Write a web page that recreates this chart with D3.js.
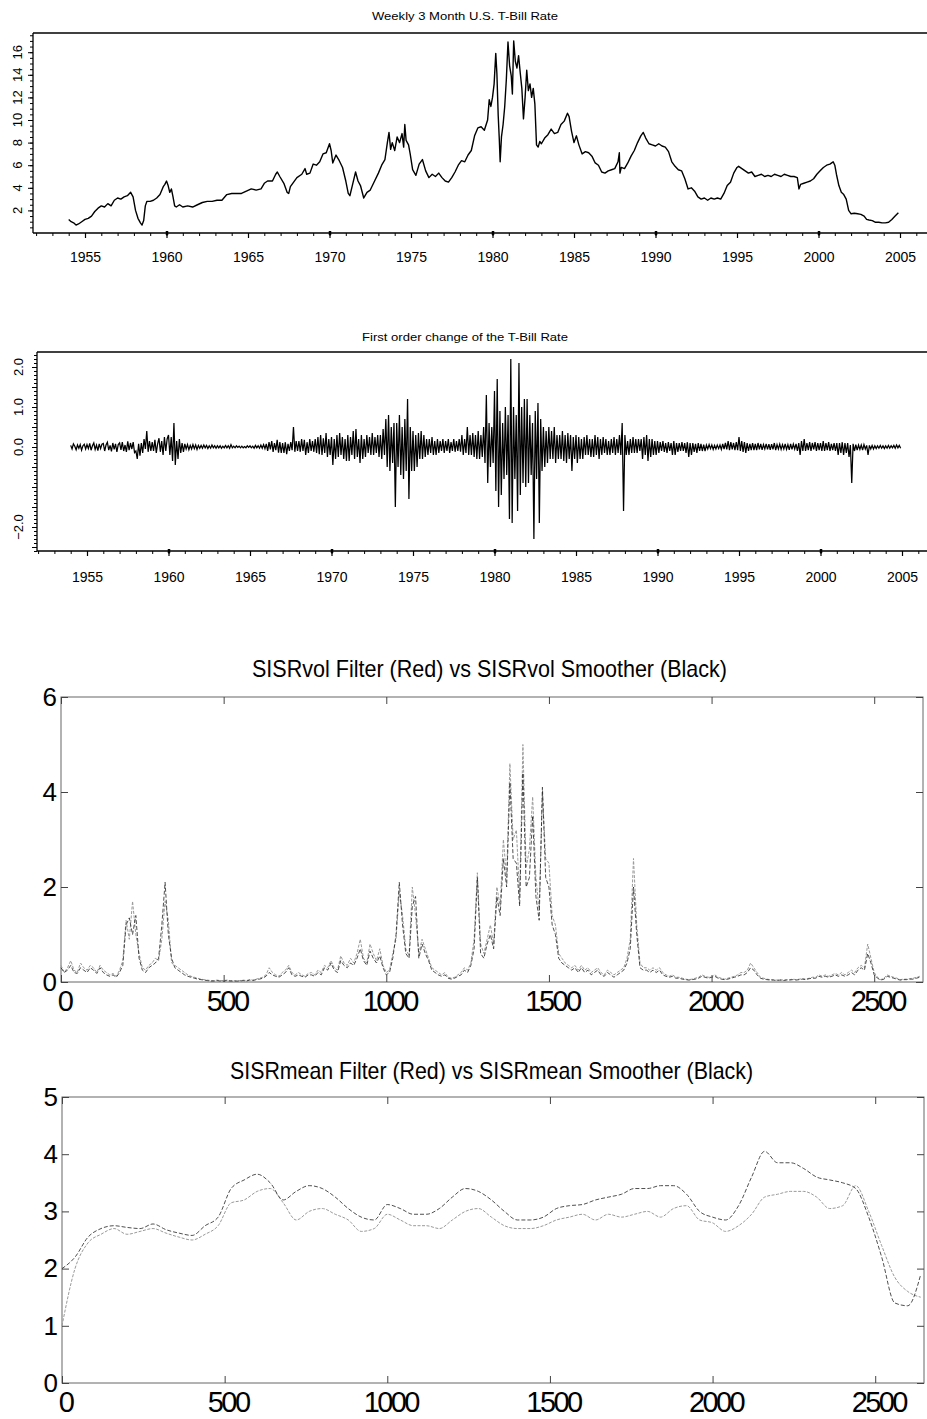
<!DOCTYPE html>
<html><head><meta charset="utf-8">
<script src="https://cdn.jsdelivr.net/npm/d3@7"></script>
<style>body{margin:0;background:#fff}svg{display:block}</style>
</head><body>
<svg id="c" width="927" height="1419"></svg>
<script>
// ---------- DATA ----------
const title1 = "Weekly 3 Month U.S. T-Bill Rate";
const title2 = "First order change of the T-Bill Rate";
const title3 = "SISRvol Filter (Red) vs SISRvol Smoother (Black)";
const title4 = "SISRmean Filter (Red) vs SISRmean Smoother (Black)";
const yearLabels = [1955,1960,1965,1970,1975,1980,1985,1990,1995,2000,2005];
const rateTicks = [2,4,6,8,10,12,14,16];
const changeTicks = [2.0,1.0,0.0,-2.0];
const indexTicks = [0,500,1000,1500,2000,2500];
const volTicks = [0,2,4,6];
const meanTicks = [0,1,2,3,4,5];

// weekly 3-month T-bill rate [year, percent]
const tbill = [
[1954.0,1.2],[1954.15,1.0],[1954.3,0.9],[1954.45,0.7],[1954.6,0.8],[1954.8,1.0],[1955.0,1.2],[1955.2,1.3],[1955.4,1.5],[1955.6,1.9],[1955.8,2.2],[1956.0,2.4],[1956.2,2.3],[1956.4,2.6],[1956.6,2.4],[1956.8,2.9],[1957.0,3.1],[1957.2,3.0],[1957.4,3.2],[1957.6,3.3],[1957.8,3.6],[1957.95,3.2],[1958.1,2.0],[1958.25,1.3],[1958.4,0.9],[1958.5,0.7],[1958.6,1.1],[1958.7,2.4],[1958.8,2.8],[1959.0,2.8],[1959.2,2.9],[1959.4,3.1],[1959.6,3.4],[1959.8,4.1],[1959.9,4.3],[1960.0,4.6],[1960.1,4.2],[1960.2,3.6],[1960.3,3.9],[1960.4,3.2],[1960.5,2.4],[1960.6,2.3],[1960.8,2.5],[1961.0,2.3],[1961.3,2.4],[1961.6,2.3],[1961.9,2.5],[1962.2,2.7],[1962.5,2.8],[1962.8,2.8],[1963.1,2.9],[1963.4,2.9],[1963.7,3.4],[1964.0,3.5],[1964.3,3.5],[1964.6,3.5],[1964.9,3.7],[1965.2,3.9],[1965.5,3.8],[1965.8,3.9],[1966.0,4.4],[1966.2,4.6],[1966.5,4.6],[1966.7,5.2],[1966.8,5.4],[1966.95,5.0],[1967.2,4.4],[1967.4,3.6],[1967.5,3.5],[1967.6,4.1],[1967.8,4.5],[1968.0,4.9],[1968.3,5.2],[1968.5,5.7],[1968.6,5.2],[1968.8,5.3],[1969.0,6.1],[1969.2,6.0],[1969.4,6.3],[1969.6,7.0],[1969.8,7.1],[1970.0,7.9],[1970.1,7.3],[1970.2,6.2],[1970.4,6.9],[1970.6,6.4],[1970.8,5.8],[1971.0,4.6],[1971.15,3.5],[1971.25,3.3],[1971.4,4.2],[1971.6,5.4],[1971.75,4.6],[1971.9,4.2],[1972.1,3.1],[1972.3,3.6],[1972.5,3.8],[1972.7,4.4],[1973.0,5.3],[1973.2,6.0],[1973.4,6.5],[1973.55,8.0],[1973.65,8.9],[1973.75,7.4],[1973.85,8.0],[1974.0,7.3],[1974.15,8.5],[1974.3,8.0],[1974.45,8.8],[1974.55,7.6],[1974.62,9.6],[1974.7,8.2],[1974.85,7.8],[1974.95,7.0],[1975.1,5.6],[1975.3,5.1],[1975.5,6.1],[1975.7,6.5],[1975.9,5.5],[1976.1,4.9],[1976.3,5.2],[1976.5,5.0],[1976.7,5.3],[1976.9,4.9],[1977.1,4.6],[1977.3,4.5],[1977.5,4.9],[1977.7,5.4],[1977.9,6.0],[1978.1,6.4],[1978.3,6.3],[1978.5,6.9],[1978.7,7.3],[1978.9,8.6],[1979.1,9.3],[1979.3,9.4],[1979.5,9.1],[1979.7,10.0],[1979.8,11.8],[1979.9,11.2],[1980.0,12.0],[1980.1,13.2],[1980.2,15.9],[1980.27,14.1],[1980.35,10.4],[1980.42,8.2],[1980.47,6.3],[1980.55,8.5],[1980.65,9.6],[1980.75,11.2],[1980.85,13.6],[1980.95,16.9],[1981.05,14.8],[1981.15,13.9],[1981.22,12.3],[1981.3,17.0],[1981.4,15.2],[1981.5,14.6],[1981.6,15.7],[1981.7,14.2],[1981.8,12.8],[1981.9,10.1],[1982.0,12.0],[1982.1,14.4],[1982.2,12.6],[1982.3,13.2],[1982.4,12.0],[1982.5,12.8],[1982.6,11.4],[1982.7,7.8],[1982.8,7.6],[1982.9,8.1],[1983.0,7.9],[1983.2,8.4],[1983.4,8.7],[1983.6,9.2],[1983.8,8.8],[1984.0,8.9],[1984.2,9.6],[1984.4,9.9],[1984.6,10.6],[1984.7,10.3],[1984.85,9.0],[1985.0,8.0],[1985.15,8.6],[1985.3,7.8],[1985.5,7.0],[1985.7,7.2],[1985.9,7.1],[1986.1,6.8],[1986.3,6.2],[1986.5,6.0],[1986.7,5.4],[1986.9,5.3],[1987.1,5.5],[1987.3,5.6],[1987.5,5.7],[1987.7,6.3],[1987.78,7.1],[1987.82,5.3],[1987.9,5.8],[1988.1,5.7],[1988.3,6.2],[1988.5,6.8],[1988.7,7.3],[1988.9,8.0],[1989.1,8.6],[1989.25,8.9],[1989.4,8.4],[1989.6,7.9],[1989.8,7.8],[1990.0,7.7],[1990.2,7.9],[1990.4,7.7],[1990.6,7.6],[1990.8,7.2],[1991.0,6.3],[1991.2,5.9],[1991.4,5.6],[1991.6,5.5],[1991.8,4.8],[1992.0,3.9],[1992.2,4.0],[1992.4,3.7],[1992.6,3.2],[1992.8,3.0],[1993.0,3.1],[1993.2,2.9],[1993.4,3.1],[1993.6,3.0],[1993.8,3.1],[1994.0,3.0],[1994.2,3.5],[1994.4,4.2],[1994.6,4.5],[1994.8,5.3],[1995.0,5.8],[1995.1,5.9],[1995.3,5.7],[1995.5,5.5],[1995.7,5.3],[1995.9,5.4],[1996.1,5.0],[1996.3,5.1],[1996.5,5.2],[1996.7,5.0],[1996.9,5.1],[1997.1,5.0],[1997.3,5.2],[1997.5,5.1],[1997.7,5.0],[1997.9,5.2],[1998.1,5.1],[1998.3,5.0],[1998.5,5.0],[1998.7,4.9],[1998.8,3.9],[1998.9,4.3],[1999.1,4.4],[1999.3,4.5],[1999.5,4.6],[1999.7,4.8],[1999.9,5.2],[2000.1,5.5],[2000.3,5.8],[2000.5,6.0],[2000.7,6.1],[2000.9,6.3],[2001.0,6.0],[2001.1,5.2],[2001.25,4.2],[2001.4,3.6],[2001.55,3.4],[2001.7,3.0],[2001.85,2.0],[2002.0,1.7],[2002.2,1.75],[2002.4,1.7],[2002.6,1.65],[2002.8,1.5],[2002.95,1.2],[2003.1,1.15],[2003.3,1.1],[2003.5,0.95],[2003.7,0.95],[2003.9,0.9],[2004.1,0.9],[2004.3,0.95],[2004.5,1.2],[2004.7,1.5],[2004.9,1.8]
];

// first order change, sampled 12 times per year from 1954.0
const changeStartYear = 1954.0;
const changePerYear = 12;
const rateChange = [
0.04,-0.05,0.08,0.02,-0.07,0.05,-0.03,0.06,-0.08,0.03,0.07,-0.05,
0.06,-0.04,0.09,-0.08,0.03,0.1,-0.06,0.05,-0.09,0.08,-0.04,0.07,
0.09,-0.1,0.05,0.12,-0.08,0.04,-0.11,0.1,-0.06,0.08,-0.12,0.06,
0.1,-0.07,0.12,-0.1,0.05,-0.12,0.14,-0.08,0.1,-0.05,0.12,-0.14,
-0.1,-0.3,0.08,-0.22,0.1,-0.15,0.2,-0.05,0.4,-0.12,0.15,-0.1,
0.12,-0.1,0.18,-0.15,0.08,0.22,-0.12,0.15,-0.2,0.25,-0.1,0.2,
0.3,-0.2,0.25,-0.35,0.6,-0.45,0.15,-0.3,0.2,-0.15,0.1,-0.12,
0.08,-0.05,0.06,-0.07,0.04,-0.05,0.06,-0.04,0.05,-0.06,0.04,-0.03,
0.04,-0.03,0.05,-0.02,0.04,-0.04,0.03,-0.03,0.05,-0.02,0.03,-0.03,
0.03,-0.02,0.03,-0.03,0.02,-0.02,0.04,-0.02,0.03,-0.03,0.06,-0.02,
0.02,-0.02,0.03,-0.01,0.02,-0.02,0.02,-0.02,0.01,-0.02,0.03,-0.01,
0.03,-0.02,0.02,-0.03,0.04,-0.02,0.03,-0.03,0.05,-0.03,0.06,-0.04,
0.08,-0.1,0.12,-0.06,0.15,-0.12,0.1,-0.08,0.18,-0.14,0.12,-0.15,
0.1,-0.15,0.12,-0.18,0.08,-0.1,0.12,-0.08,0.5,-0.12,0.15,-0.1,
0.15,-0.12,0.2,-0.1,0.18,-0.2,0.12,-0.15,0.2,-0.1,0.15,-0.12,
0.2,-0.15,0.25,-0.18,0.3,-0.2,0.22,-0.15,0.35,-0.25,0.2,-0.2,
0.25,-0.45,0.2,-0.3,0.3,-0.25,0.35,-0.2,0.25,-0.3,0.2,-0.35,
0.3,-0.35,0.25,-0.2,0.4,-0.3,0.45,-0.25,0.2,-0.4,0.3,-0.3,
0.2,-0.25,0.3,-0.15,0.25,-0.2,0.35,-0.2,0.25,-0.15,0.3,-0.25,
0.3,-0.3,0.45,-0.2,0.7,-0.5,0.8,-0.6,0.5,-0.4,0.6,-1.5,
0.6,-0.5,0.8,-0.7,0.5,-0.8,0.7,-0.6,1.2,-1.3,0.5,-0.6,
0.4,-0.6,0.3,-0.5,0.35,-0.3,0.4,-0.3,0.3,-0.25,0.2,-0.2,
0.2,-0.15,0.25,-0.2,0.15,-0.2,0.2,-0.15,0.15,-0.1,0.2,-0.15,
0.15,-0.1,0.2,-0.15,0.12,-0.1,0.2,-0.12,0.15,-0.1,0.2,-0.12,
0.3,-0.2,0.2,-0.15,0.5,-0.2,0.3,-0.2,0.35,-0.25,0.3,-0.3,
0.4,-0.3,0.3,-0.25,0.5,-0.4,1.3,-0.9,0.6,-0.5,0.5,-0.4,
1.4,-1.1,1.7,-1.5,0.9,-1.2,0.6,-0.8,1.0,-0.7,0.8,-1.8,
2.2,-1.9,1.0,-0.8,0.8,-1.6,2.1,-1.2,1.0,-0.9,1.2,-1.0,
1.2,-0.9,0.8,-0.7,0.6,-2.3,0.9,-0.8,1.1,-1.9,0.7,-0.6,
0.5,-0.5,0.4,-0.4,0.5,-0.3,0.4,-0.3,0.5,-0.4,0.3,-0.3,
0.3,-0.3,0.4,-0.35,0.3,-0.4,0.35,-0.3,0.3,-0.6,0.25,-0.3,
0.3,-0.4,0.25,-0.3,0.2,-0.3,0.25,-0.2,0.3,-0.2,0.2,-0.25,
0.2,-0.25,0.3,-0.2,0.25,-0.3,0.2,-0.2,0.25,-0.15,0.2,-0.2,
0.15,-0.2,0.2,-0.15,0.25,-0.2,0.2,-0.15,0.3,-0.2,0.6,-1.6,
0.3,-0.2,0.15,-0.2,0.2,-0.15,0.25,-0.15,0.2,-0.15,0.2,-0.1,
0.2,-0.3,0.25,-0.2,0.3,-0.35,0.2,-0.25,0.2,-0.2,0.15,-0.2,
0.15,-0.15,0.12,-0.1,0.15,-0.12,0.1,-0.15,0.12,-0.1,0.1,-0.2,
0.15,-0.2,0.1,-0.12,0.1,-0.1,0.12,-0.1,0.1,-0.15,0.12,-0.25,
0.1,-0.2,0.1,-0.12,0.08,-0.15,0.1,-0.1,0.08,-0.1,0.06,-0.1,
0.05,-0.05,0.06,-0.04,0.05,-0.06,0.04,-0.05,0.05,-0.04,0.05,-0.06,
0.08,-0.05,0.1,-0.06,0.15,-0.08,0.12,-0.06,0.1,-0.08,0.12,-0.08,
0.25,-0.1,0.15,-0.12,0.12,-0.15,0.1,-0.1,0.08,-0.08,0.1,-0.08,
0.08,-0.08,0.1,-0.06,0.08,-0.07,0.06,-0.05,0.08,-0.06,0.07,-0.07,
0.07,-0.06,0.1,-0.08,0.06,-0.05,0.07,-0.06,0.06,-0.05,0.08,-0.06,
0.06,-0.07,0.08,-0.06,0.07,-0.05,0.08,-0.1,0.1,-0.2,0.15,-0.1,
0.2,-0.1,0.1,-0.08,0.12,-0.1,0.1,-0.06,0.12,-0.1,0.1,-0.08,
0.1,-0.1,0.15,-0.1,0.1,-0.08,0.12,-0.1,0.08,-0.08,0.1,-0.1,
0.1,-0.2,0.1,-0.15,0.12,-0.2,0.1,-0.15,0.1,-0.25,0.05,-0.9,
0.08,-0.1,0.06,-0.08,0.05,-0.06,0.05,-0.08,0.06,-0.05,0.04,-0.2,
0.04,-0.05,0.04,-0.05,0.03,-0.04,0.03,-0.03,0.04,-0.03,0.03,-0.04,
0.03,-0.03,0.04,-0.03,0.03,-0.02,0.04,-0.03,0.05,-0.02,0.04,-0.03
];

// SISR volatility, sampled every 10 observations
const volStep = 10;
const volFilter = [
0.35,0.2,0.3,0.45,0.25,0.2,0.4,0.3,0.25,0.35,
0.3,0.2,0.35,0.25,0.2,0.15,0.18,0.12,0.25,0.45,
1.3,0.9,1.7,1.0,0.6,0.3,0.25,0.35,0.4,0.5,
0.45,0.9,1.7,1.3,0.4,0.35,0.3,0.25,0.2,0.15,
0.12,0.1,0.08,0.06,0.05,0.04,0.03,0.03,0.04,0.03,
0.03,0.04,0.03,0.03,0.02,0.03,0.04,0.03,0.05,0.04,
0.06,0.08,0.1,0.15,0.3,0.2,0.15,0.12,0.2,0.25,
0.35,0.2,0.15,0.2,0.15,0.12,0.18,0.2,0.15,0.25,
0.2,0.35,0.3,0.45,0.3,0.25,0.55,0.4,0.35,0.5,
0.4,0.6,0.9,0.5,0.4,0.8,0.6,0.45,0.7,0.35,
0.2,0.25,0.6,0.9,1.9,1.4,0.7,0.55,2.0,1.4,
0.6,0.9,0.7,0.5,0.3,0.25,0.2,0.15,0.2,0.1,
0.08,0.1,0.15,0.2,0.3,0.25,0.4,0.9,2.3,0.8,
0.6,0.9,1.2,0.8,2.0,1.6,3.0,2.2,4.6,3.0,
3.2,1.8,5.0,2.4,2.8,3.9,2.2,1.5,4.0,2.6,
2.5,1.4,1.2,0.6,0.5,0.4,0.35,0.3,0.35,0.25,
0.35,0.25,0.3,0.2,0.25,0.3,0.2,0.15,0.25,0.2,
0.15,0.2,0.25,0.3,0.5,0.9,2.6,1.2,0.4,0.3,
0.3,0.25,0.3,0.25,0.3,0.2,0.15,0.12,0.15,0.1,
0.1,0.08,0.06,0.05,0.06,0.08,0.1,0.15,0.12,0.1,
0.12,0.15,0.1,0.08,0.06,0.08,0.1,0.12,0.15,0.2,
0.2,0.25,0.4,0.3,0.2,0.1,0.08,0.06,0.05,0.05,
0.04,0.05,0.04,0.05,0.05,0.06,0.05,0.06,0.07,0.06,
0.08,0.1,0.1,0.15,0.12,0.15,0.12,0.15,0.18,0.15,
0.2,0.15,0.2,0.25,0.2,0.3,0.35,0.3,0.8,0.5,
0.2,0.1,0.05,0.08,0.15,0.12,0.1,0.08,0.05,0.06,
0.06,0.07,0.08,0.1,0.12
];
const volSmoother = [
0.3,0.2,0.25,0.35,0.2,0.18,0.3,0.25,0.2,0.3,
0.25,0.18,0.3,0.2,0.15,0.12,0.15,0.1,0.2,0.35,
1.2,1.35,1.0,1.4,0.5,0.25,0.2,0.3,0.35,0.4,
0.5,1.2,2.1,1.0,0.5,0.3,0.25,0.2,0.15,0.12,
0.1,0.08,0.06,0.05,0.04,0.03,0.02,0.02,0.03,0.02,
0.02,0.03,0.02,0.02,0.02,0.02,0.03,0.02,0.04,0.03,
0.05,0.06,0.08,0.12,0.2,0.15,0.12,0.1,0.15,0.2,
0.3,0.15,0.12,0.15,0.12,0.1,0.15,0.15,0.12,0.2,
0.15,0.3,0.25,0.4,0.25,0.2,0.45,0.35,0.3,0.4,
0.35,0.5,0.7,0.45,0.35,0.65,0.5,0.4,0.55,0.3,
0.15,0.2,0.5,1.0,2.1,1.2,0.6,0.5,1.6,1.8,
0.5,0.8,0.6,0.45,0.25,0.2,0.15,0.12,0.15,0.08,
0.06,0.08,0.12,0.15,0.25,0.2,0.35,0.7,2.2,0.6,
0.5,0.8,1.0,0.7,1.8,1.4,2.6,2.0,4.2,2.6,
2.5,1.6,4.4,2.0,2.2,3.5,1.8,1.3,4.1,2.2,
2.0,1.2,1.0,0.5,0.4,0.35,0.3,0.25,0.3,0.2,
0.3,0.2,0.25,0.15,0.2,0.25,0.15,0.12,0.2,0.15,
0.1,0.15,0.2,0.25,0.4,0.7,2.0,1.0,0.3,0.25,
0.25,0.2,0.25,0.2,0.25,0.15,0.12,0.1,0.12,0.08,
0.08,0.06,0.05,0.04,0.05,0.06,0.08,0.12,0.1,0.08,
0.1,0.12,0.08,0.06,0.05,0.06,0.08,0.1,0.12,0.15,
0.15,0.2,0.3,0.25,0.15,0.08,0.06,0.05,0.04,0.04,
0.03,0.04,0.03,0.04,0.04,0.05,0.04,0.05,0.06,0.05,
0.07,0.08,0.08,0.12,0.1,0.12,0.1,0.12,0.15,0.12,
0.15,0.12,0.15,0.2,0.15,0.25,0.3,0.25,0.6,0.4,
0.15,0.08,0.04,0.06,0.12,0.1,0.08,0.06,0.04,0.05,
0.05,0.06,0.06,0.08,0.1
];

// SISR mean, sampled every 40 observations
const meanStep = 40;
const meanSmoother = [
2.0,2.2,2.55,2.7,2.75,2.72,2.7,2.78,2.68,2.62,
2.58,2.75,2.9,3.4,3.55,3.65,3.5,3.2,3.35,3.45,
3.4,3.25,3.05,2.9,2.85,3.12,3.05,2.95,2.95,3.05,
3.25,3.4,3.35,3.2,3.0,2.85,2.85,2.9,3.05,3.1,
3.12,3.2,3.25,3.3,3.4,3.4,3.45,3.45,3.3,3.0,
2.9,2.85,3.1,3.6,4.05,3.85,3.85,3.75,3.6,3.55,
3.5,3.4,2.9,2.2,1.4,1.35,1.9
];
const meanFilter = [
1.0,2.0,2.45,2.6,2.7,2.6,2.65,2.7,2.62,2.55,
2.5,2.6,2.75,3.15,3.2,3.35,3.4,3.15,2.85,3.0,
3.05,2.95,2.85,2.65,2.7,2.95,2.85,2.75,2.75,2.7,
2.85,3.0,3.05,2.9,2.75,2.7,2.7,2.75,2.85,2.9,
2.95,2.85,2.95,2.9,2.95,3.0,2.9,3.05,3.1,2.85,
2.8,2.65,2.75,2.95,3.25,3.3,3.35,3.35,3.25,3.05,
3.1,3.45,3.0,2.4,1.85,1.6,1.5
];

// ---------- DRAW ----------
const svg = d3.select("#c");
const sans = "'Liberation Sans', Arial, Helvetica, sans-serif";

function line(g, x1, y1, x2, y2, w, col) {
  g.append("line").attr("x1", x1).attr("y1", y1).attr("x2", x2).attr("y2", y2)
    .attr("stroke", col || "#000").attr("stroke-width", w || 1);
}

// ===== Panel 1 & 2 (S-Plus style) =====
function splusPanel(cfg) {
  const g = svg.append("g");
  const x = d3.scaleLinear().domain([1955, 2005]).range(cfg.xr);
  const y = d3.scaleLinear().domain(cfg.yd).range([cfg.bottom, cfg.top]);
  line(g, cfg.left, cfg.top, 927, cfg.top, 1.3);
  line(g, cfg.left, cfg.top, cfg.left, cfg.bottom, 1.3);
  line(g, cfg.left, cfg.bottom, 927, cfg.bottom, 1.3);
  const minorYears = d3.range(1952, 2007);
  g.append("g").attr("transform", `translate(0,${cfg.bottom})`)
    .call(d3.axisBottom(x).tickValues(minorYears).tickSize(3).tickFormat(""))
    .call(a => a.select(".domain").remove());
  const ax = g.append("g").attr("transform", `translate(0,${cfg.bottom})`)
    .call(d3.axisBottom(x).tickValues(yearLabels).tickSize(5).tickPadding(cfg.pad).tickFormat(d3.format("d")))
    .call(a => a.select(".domain").remove());
  ax.selectAll("text").attr("font-family", sans).attr("font-size", 14).attr("fill", "#000");
  ax.selectAll("line").attr("stroke-width", 1.2);
  g.append("g").attr("transform", `translate(0,${cfg.bottom})`)
    .call(d3.axisBottom(x).tickValues([1960,1970,1980,1990,2000]).tickSize(4).tickFormat(""))
    .call(a => a.select(".domain").remove())
    .selectAll("line").attr("stroke-width", 2.5).attr("transform", "translate(0,-2)");
  g.append("g").attr("transform", `translate(${cfg.left},0)`)
    .call(d3.axisLeft(y).tickValues(cfg.yMinor).tickSize(3).tickFormat(""))
    .call(a => a.select(".domain").remove());
  g.append("g").attr("transform", `translate(${cfg.left},0)`)
    .call(d3.axisLeft(y).tickValues(cfg.yMajor).tickSize(5).tickFormat(""))
    .call(a => a.select(".domain").remove());
  g.selectAll("text.yl").data(cfg.yLabels).enter().append("text")
    .attr("class", "yl")
    .attr("transform", d => `translate(${cfg.labelX},${y(d)}) rotate(-90)`)
    .attr("text-anchor", "middle")
    .attr("font-family", sans).attr("font-size", 13)
    .text(cfg.fmt);
  g.append("text").attr("x", cfg.titleX).attr("y", cfg.titleY)
    .attr("text-anchor", "middle").attr("font-family", sans).attr("font-size", 10.5)
    .attr("textLength", cfg.titleW).attr("lengthAdjust", "spacingAndGlyphs")
    .text(cfg.title);
  return {g, x, y};
}

const p1 = splusPanel({
  xr: [85, 900], yd: [0, 17.7], top: 33, bottom: 233, left: 33, pad: 14,
  yMinor: d3.range(1, 36).map(i => i * 0.5), yMajor: rateTicks,
  yLabels: rateTicks, fmt: d => d, labelX: 22,
  title: title1, titleX: 465, titleY: 20, titleW: 186
});
p1.g.append("path").datum(tbill)
  .attr("fill", "none").attr("stroke", "#000").attr("stroke-width", 1.4)
  .attr("stroke-linejoin", "round")
  .attr("d", d3.line().x(d => p1.x(d[0])).y(d => p1.y(d[1])));

const p2 = splusPanel({
  xr: [87, 902], yd: [-2.6, 2.375], top: 352, bottom: 551, left: 37, pad: 16,
  yMinor: d3.range(-26, 24).map(i => i / 10), yMajor: [-2.5,-2,-1.5,-1,-0.5,0,0.5,1,1.5,2],
  yLabels: changeTicks, fmt: d => d3.format(".1f")(d), labelX: 23,
  title: title2, titleX: 465, titleY: 341, titleW: 206
});
p2.g.append("path").datum(rateChange)
  .attr("fill", "none").attr("stroke", "#000").attr("stroke-width", 1.25)
  .attr("d", d3.line().x((d, i) => p2.x(changeStartYear + i / changePerYear)).y(d => p2.y(d)));

// ===== Panels 3 & 4 (MATLAB style) =====
function matlabPanel(cfg) {
  const g = svg.append("g");
  const x = d3.scaleLinear().domain([0, 2650]).range([cfg.left, cfg.right]);
  const y = d3.scaleLinear().domain(cfg.yd).range([cfg.bottom, cfg.top]);
  g.append("rect").attr("x", cfg.left).attr("y", cfg.top)
    .attr("width", cfg.right - cfg.left).attr("height", cfg.bottom - cfg.top)
    .attr("fill", "none").attr("stroke", "#666").attr("stroke-width", 1);
  const tk = 7;
  const bx = g.append("g").attr("transform", `translate(0,${cfg.bottom})`)
    .call(d3.axisBottom(x).tickValues(indexTicks).tickSize(-tk).tickPadding(cfg.xpad).tickFormat(d3.format("d")))
    .call(a => a.select(".domain").remove());
  bx.selectAll("line").attr("stroke", "#444");
  bx.selectAll("text").attr("font-family", sans).attr("font-size", 29)
    .attr("letter-spacing", "-2.6px").attr("dx", 3).attr("fill", "#000");
  g.append("g").attr("transform", `translate(0,${cfg.top})`)
    .call(d3.axisTop(x).tickValues(indexTicks).tickSize(-tk).tickFormat(""))
    .call(a => a.select(".domain").remove()).selectAll("line").attr("stroke", "#444");
  const ly = g.append("g").attr("transform", `translate(${cfg.left},0)`)
    .call(d3.axisLeft(y).tickValues(cfg.yt).tickSize(-tk).tickPadding(6).tickFormat(d3.format("d")))
    .call(a => a.select(".domain").remove());
  ly.selectAll("line").attr("stroke", "#444");
  ly.selectAll("text").attr("font-family", sans).attr("font-size", 26).attr("fill", "#000")
    .attr("x", -4);
  g.append("g").attr("transform", `translate(${cfg.right},0)`)
    .call(d3.axisRight(y).tickValues(cfg.yt).tickSize(-tk).tickFormat(""))
    .call(a => a.select(".domain").remove()).selectAll("line").attr("stroke", "#444");
  g.append("text").attr("x", cfg.titleX).attr("y", cfg.titleY)
    .attr("font-family", sans).attr("font-size", 24)
    .attr("textLength", cfg.titleW).attr("lengthAdjust", "spacingAndGlyphs")
    .text(cfg.title);
  return {g, x, y};
}

const p3 = matlabPanel({
  left: 61, right: 923, top: 697, bottom: 982, yd: [0, 6], yt: volTicks, xpad: 8,
  title: title3, titleX: 252, titleY: 677, titleW: 475
});
p3.g.append("path").datum(volFilter)
  .attr("fill", "none").attr("stroke", "#9a9a9a").attr("stroke-width", 1)
  .attr("stroke-dasharray", "3,1.5")
  .attr("d", d3.line().x((d, i) => p3.x(i * volStep)).y(d => p3.y(d)));
p3.g.append("path").datum(volSmoother)
  .attr("fill", "none").attr("stroke", "#222").attr("stroke-width", 0.8)
  .attr("stroke-dasharray", "4,2")
  .attr("d", d3.line().x((d, i) => p3.x(i * volStep)).y(d => p3.y(d)));

const p4 = matlabPanel({
  left: 62, right: 924, top: 1097, bottom: 1383, yd: [0, 5], yt: meanTicks, xpad: 8,
  title: title4, titleX: 230, titleY: 1079, titleW: 523
});
p4.g.append("path").datum(meanFilter)
  .attr("fill", "none").attr("stroke", "#9a9a9a").attr("stroke-width", 1)
  .attr("stroke-dasharray", "3,1.5")
  .attr("d", d3.line().curve(d3.curveMonotoneX).x((d, i) => p4.x(i * meanStep)).y(d => p4.y(d)));
p4.g.append("path").datum(meanSmoother)
  .attr("fill", "none").attr("stroke", "#222").attr("stroke-width", 0.8)
  .attr("stroke-dasharray", "4,2")
  .attr("d", d3.line().curve(d3.curveMonotoneX).x((d, i) => p4.x(i * meanStep)).y(d => p4.y(d)));
</script>
</body></html>
